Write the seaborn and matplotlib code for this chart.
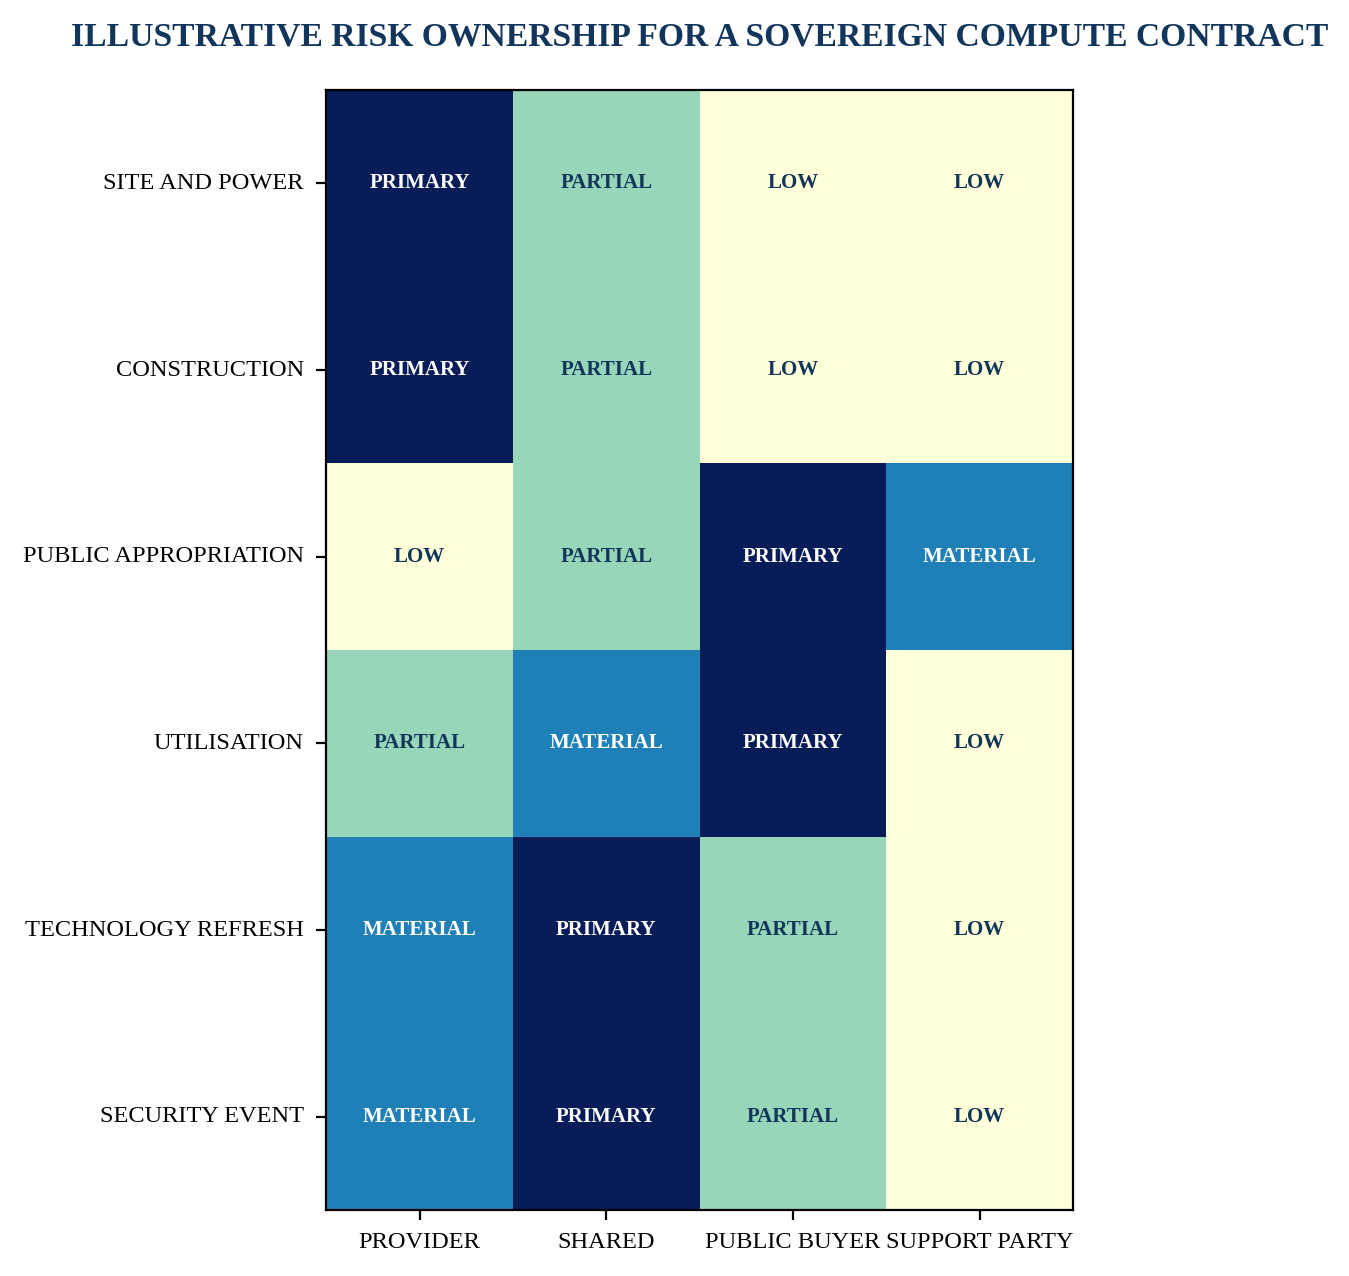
import numpy as np
import pandas as pd
import matplotlib
matplotlib.use("Agg")
import matplotlib.pyplot as plt
import seaborn as sns

risks = ["SITE AND POWER", "CONSTRUCTION", "PUBLIC APPROPRIATION",
         "UTILISATION", "TECHNOLOGY REFRESH", "SECURITY EVENT"]
parties = ["PROVIDER", "SHARED", "PUBLIC BUYER", "SUPPORT PARTY"]
level_names = ["LOW", "PARTIAL", "MATERIAL", "PRIMARY"]
site_power = [3, 1, 0, 0]
construction = [3, 1, 0, 0]
public_appropriation = [0, 1, 3, 2]
utilisation = [1, 2, 3, 0]
technology_refresh = [2, 3, 1, 0]
security_event = [2, 3, 1, 0]

values = np.array([site_power, construction, public_appropriation,
                   utilisation, technology_refresh, security_event])
df = pd.DataFrame(values, index=risks, columns=parties)
labels = np.vectorize(lambda v: level_names[v])(values)

plt.rcParams["font.family"] = ["Liberation Serif", "DejaVu Serif"]

navy = "#12355b"
fig = plt.figure(figsize=(6.745, 6.38), dpi=200)
ax = fig.add_axes([0.2417, 0.0517, 0.5537, 0.8777])
sns.heatmap(df, ax=ax, cmap="YlGnBu", vmin=0, vmax=3, cbar=False,
            square=True, annot=False, linewidths=0)

for i in range(values.shape[0]):
    for j in range(values.shape[1]):
        v = values[i, j]
        ax.text(j + 0.5, i + 0.5, labels[i, j], ha="center", va="center",
                fontsize=7.5, fontweight="bold",
                color="white" if v >= 2 else navy)

for s in ax.spines.values():
    s.set_visible(True)
    s.set_color("black")
    s.set_linewidth(0.8)

ax.tick_params(axis="both", length=3.5, width=0.8, labelsize=8.8,
               colors="black", pad=4.5)
ax.set_xticklabels(parties, rotation=0)
ax.set_yticklabels(risks, rotation=0)
ax.set_xlabel("")
ax.set_ylabel("")
ax.set_title("ILLUSTRATIVE RISK OWNERSHIP FOR A SOVEREIGN COMPUTE CONTRACT",
             fontsize=12.1, fontweight="bold", color=navy, pad=16)

fig.savefig("out.png", dpi=200)
